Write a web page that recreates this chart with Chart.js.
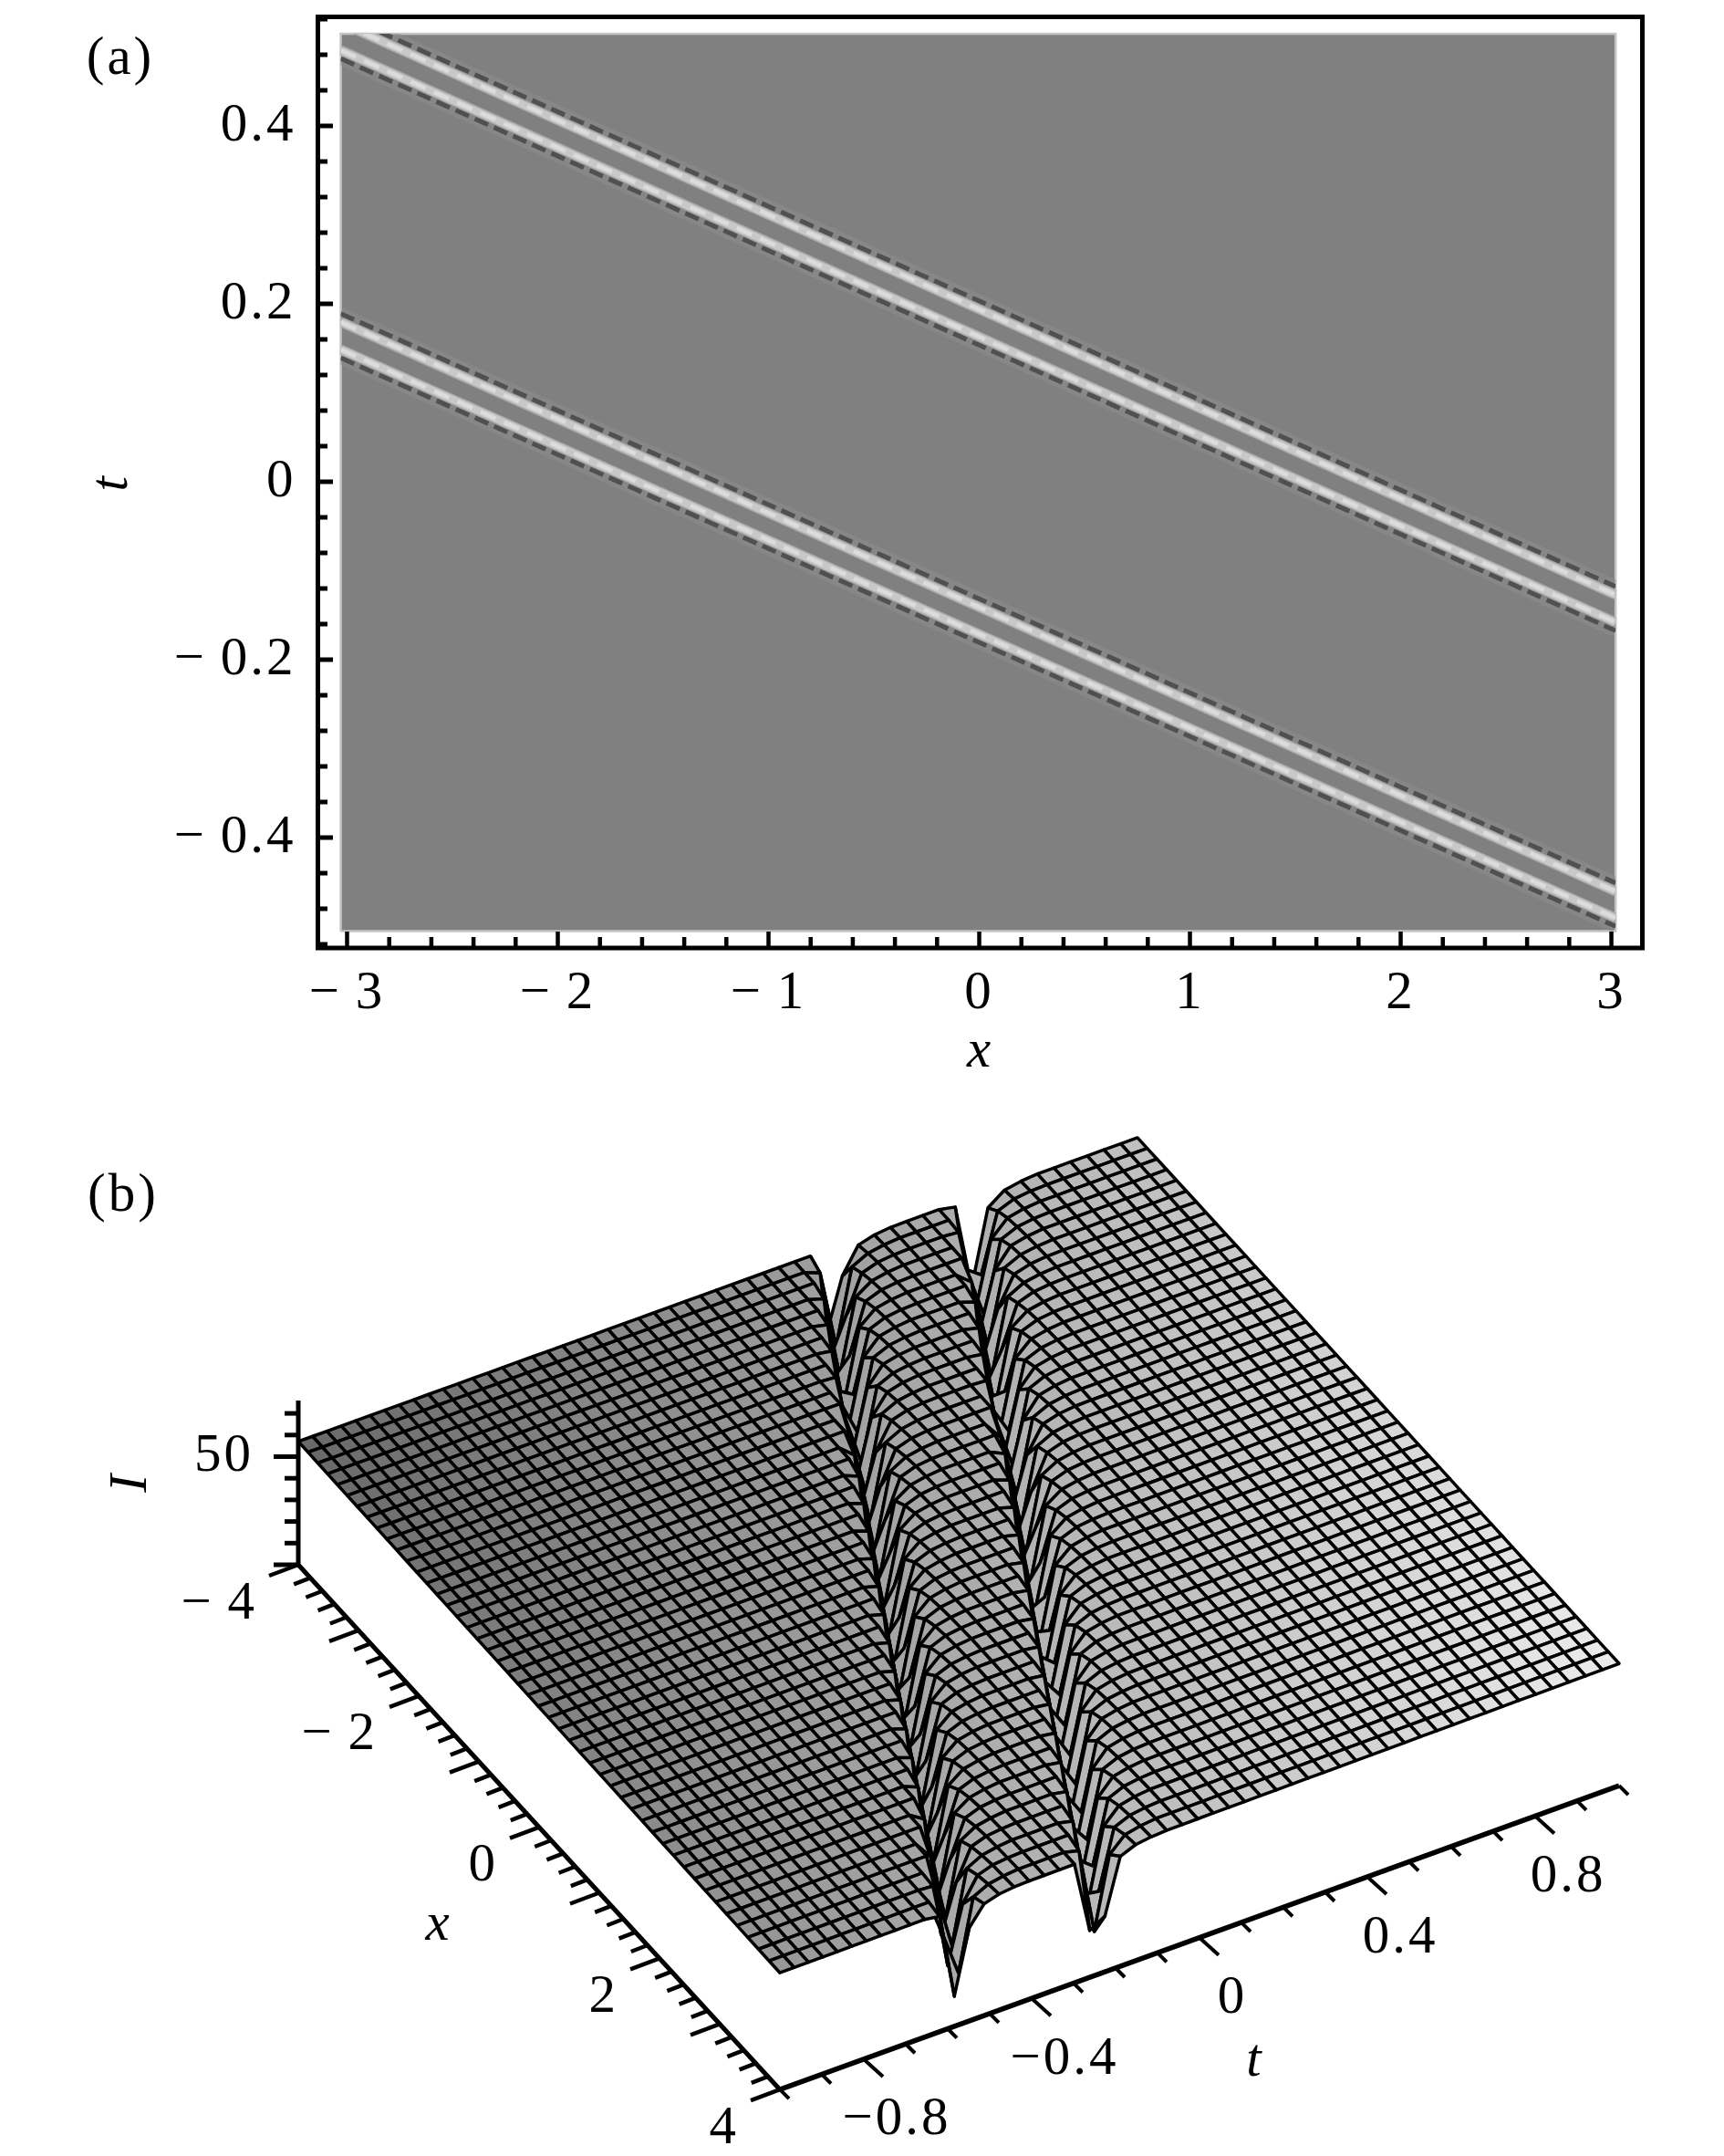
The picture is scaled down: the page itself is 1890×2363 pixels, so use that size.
<!DOCTYPE html>
<html><head><meta charset="utf-8">
<script src="https://cdn.jsdelivr.net/npm/chart.js@4"></script>
<style>
html,body{margin:0;padding:0;background:#fff}
canvas{position:absolute;left:0;display:block}
#a{top:0}#b{top:1200px}
</style></head><body>
<canvas id="a" width="1890" height="1200"></canvas>
<canvas id="b" width="1890" height="1163"></canvas>
<script>
/* ---------- panel (a) data ---------- */
const xMajorTicks=[-3,-2,-1,0,1,2,3];
const xTickLabels=['\u2212\u20093','\u2212\u20092','\u2212\u20091','0','1','2','3'];
const tMajorTicks=[-0.4,-0.2,0,0.2,0.4];
const tTickLabels=['\u2212\u20090.4','\u2212\u20090.2','0','0.2','0.4'];
const xMinorTicks=[-2.8,-2.6,-2.4,-2.2,-1.8,-1.6,-1.4,-1.2,-0.8,-0.6,-0.4,-0.2,0.2,0.4,0.6,0.8,1.2,1.4,1.6,1.8,2.2,2.4,2.6,2.8];
const tMinorTicks=[-0.52,-0.48,-0.44,-0.36,-0.32,-0.28,-0.24,-0.16,-0.12,-0.08,-0.04,0.04,0.08,0.12,0.16,0.24,0.28,0.32,0.36,0.44,0.48,0.52];
const imageX=[-3.03,3.02];
const imageT=[-0.505,0.5036];
const stripe1T=[0.5159,-0.1272];
const stripe2T=[0.4851,-0.158];
const stripe3T=[0.1795,-0.4605];
const stripe4T=[0.1487,-0.4903];
const darkEdge1T=[0.5254,-0.1177];
const darkEdge2T=[0.4756,-0.1675];
const darkEdge3T=[0.189,-0.451];
const darkEdge4T=[0.1392,-0.4998];

/* ---------- panel (b) data ---------- */
const surfaceXRange=[-4,4];
const surfaceTRange=[-1,1];
const meshCellsX=47, meshCellsT=54;
const meshWarpX=0.05, meshWarpT=0.083;    // spacing grows slightly toward the viewer
const troughTAtXZero=[-0.156,0.179];      // trough centres at x = 0
const troughDrift=-0.106;                 // dt/dx of the troughs, read from (a)
const profileD=[-0.045,-0.03,-0.015,0,0.015,0.03,0.045,0.07,0.10,0.15];   // distance from centre in t
const profileDrop=[0,3,37,42,37,12,5.5,2.5,1,0];                          // drop of I read from (b)
const cornerI=[57,57,54,56.5];            // (x-,t-),(x-,t+),(x+,t-),(x+,t+)
const cornerGray=[104,192,152,236];
const iTicks=[0,10,20,30,40,50,60,70];
const tAxis3dMajor=[-0.8,-0.4,0,0.4,0.8];
const xAxis3dLabels=[[-4,'\u2212\u20094'],[-2,'\u2212\u20092'],[0,'0'],[2,'2'],[4,'4']];
const tAxis3dLabels=[[-0.8,'\u22120.8'],[-0.4,'\u22120.4'],[0,'0'],[0.4,'0.4'],[0.8,'0.8']];

/* ---------- shared ---------- */
const SERIF='"Liberation Serif", serif';
const FS=59;
Chart.defaults.animation=false;
Chart.defaults.plugins.legend.display=false;
Chart.defaults.plugins.tooltip.enabled=false;
Chart.defaults.events=[];

const spacing={id:'spacing',beforeDraw(c){c.ctx.letterSpacing='3px';}};

const FRAME={left:348.5,right:1800.5,top:18.5,bottom:1039};
const pts2=(xs,ts)=>xs.map((x,i)=>({x:x,y:ts[i]}));

function stripeSet(arr,opts){return Object.assign({data:pts2(imageX,arr),showLine:true,fill:false,pointRadius:0,clipToImage:true,parsing:false},opts);}

const darkStyle={borderColor:'#505050',borderWidth:5,borderDash:[16,7]};
const haloStyle={borderColor:'rgba(140,140,140,0.6)',borderWidth:14};
const softStyle={borderColor:'#a8a8a8',borderWidth:11};
const lightStyle={borderColor:'#c8c8c8',borderWidth:8};
const coreStyle={borderColor:'#dcdcdc',borderWidth:4.5,borderDash:[18,10]};

const aSets=[];
const stripes=[stripe1T,stripe2T,stripe3T,stripe4T], darks=[darkEdge1T,darkEdge2T,darkEdge3T,darkEdge4T];
stripes.forEach(s=>aSets.push(stripeSet(s,coreStyle)));
stripes.forEach(s=>aSets.push(stripeSet(s,lightStyle)));
darks.forEach(s=>aSets.push(stripeSet(s,darkStyle)));
stripes.forEach(s=>aSets.push(stripeSet(s,softStyle)));
darks.forEach(s=>aSets.push(stripeSet(s,haloStyle)));
aSets.push({data:[{x:imageX[0],y:imageT[0]},{x:imageX[1],y:imageT[0]},{x:imageX[1],y:imageT[1]},{x:imageX[0],y:imageT[1]},{x:imageX[0],y:imageT[0]}],
  showLine:true,fill:'shape',backgroundColor:'#808080',borderColor:'#c4c4c4',borderWidth:2.5,pointRadius:0,parsing:false});

const imageClip={id:'imageClip',
  beforeDatasetDraw(c,args){
    const ds=c.data.datasets[args.index];
    if(!ds.clipToImage)return;
    const X=c.scales.x,Y=c.scales.y,ctx=c.ctx;
    const l=X.getPixelForValue(imageX[0]),r=X.getPixelForValue(imageX[1]);
    const t=Y.getPixelForValue(imageT[1]),b=Y.getPixelForValue(imageT[0]);
    ctx.save();ctx.beginPath();ctx.rect(l,t,r-l,b-t);ctx.clip();
  },
  afterDatasetDraw(c,args){ if(c.data.datasets[args.index].clipToImage)c.ctx.restore(); }
};
const frameTicks={id:'frameTicks',afterDraw(c){
  const ctx=c.ctx,A=c.chartArea,X=c.scales.x,Y=c.scales.y;
  ctx.save();ctx.strokeStyle='#000';
  ctx.lineWidth=5;ctx.strokeRect(A.left,A.top,A.right-A.left,A.bottom-A.top);
  const xt=(v,len,w)=>{const p=X.getPixelForValue(v);ctx.lineWidth=w;ctx.beginPath();ctx.moveTo(p,A.bottom);ctx.lineTo(p,A.bottom-len);ctx.stroke();};
  const yt=(v,len,w)=>{const p=Y.getPixelForValue(v);ctx.lineWidth=w;ctx.beginPath();ctx.moveTo(A.left,p);ctx.lineTo(A.left+len,p);ctx.stroke();};
  xMajorTicks.forEach(v=>xt(v,18,4.5));xMinorTicks.forEach(v=>xt(v,12,4.5));
  tMajorTicks.forEach(v=>yt(v,16.5,5));tMinorTicks.forEach(v=>yt(v,10.5,5));
  ctx.fillStyle='#000';ctx.font=FS+'px '+SERIF;ctx.textAlign='center';ctx.textBaseline='middle';
  ctx.fillText('(a)',132,65);
  ctx.restore();
}};

new Chart(document.getElementById('a'),{
  type:'scatter',
  data:{datasets:aSets},
  plugins:[spacing,imageClip,frameTicks],
  options:{responsive:false,devicePixelRatio:1,
    layout:{padding:{top:FRAME.top,right:1890-FRAME.right,left:0,bottom:0}},
    scales:{
      x:{type:'linear',min:-3.1385,max:3.147,grid:{display:false,drawTicks:false},border:{display:false},
        afterBuildTicks(s){s.ticks=xMajorTicks.map(v=>({value:v}));},
        afterFit(s){s.height=1200-FRAME.bottom;s.paddingLeft=0;s.paddingRight=0;},
        ticks:{autoSkip:false,maxRotation:0,minRotation:0,padding:15,color:'#000',font:{family:SERIF,size:FS},callback:(v,i)=>xTickLabels[i]},
        title:{display:true,text:'x',color:'#000',font:{family:SERIF,size:FS,style:'italic'},padding:{top:0,bottom:11}}},
      y:{type:'linear',min:(528-1039)/975,max:(528-18.5)/975,grid:{display:false,drawTicks:false},border:{display:false},
        afterBuildTicks(s){s.ticks=tMajorTicks.map(v=>({value:v}));},
        afterFit(s){s.width=FRAME.left;s.paddingTop=0;s.paddingBottom=0;},
        ticks:{autoSkip:false,padding:24,color:'#000',font:{family:SERIF,size:FS},callback:(v,i)=>tTickLabels[i]},
        title:{display:true,text:'t',color:'#000',font:{family:SERIF,size:FS,style:'italic'},padding:{top:88,bottom:0}}}
    }
  }
});

/* ---------- panel (b) ---------- */
const PROJ={u0:327,v0:1715,ux:66,vx:71.9,ut:460,vt:-166.5,vI:-2.37};
function project(x,t,I){
  return {x:PROJ.u0+PROJ.ux*(x-surfaceXRange[0])+PROJ.ut*(t-surfaceTRange[0]),
          y:PROJ.v0+PROJ.vx*(x-surfaceXRange[0])+PROJ.vt*(t-surfaceTRange[0])+PROJ.vI*I};
}
function lookup(d){
  if(d<=profileD[0]||d>=profileD[profileD.length-1])return 0;
  for(let i=1;i<profileD.length;i++){
    if(d<=profileD[i]){const f=(d-profileD[i-1])/(profileD[i]-profileD[i-1]);return profileDrop[i-1]+f*(profileDrop[i]-profileDrop[i-1]);}
  }
  return 0;
}
function bilinear(c,x,t){
  const a=(x-surfaceXRange[0])/(surfaceXRange[1]-surfaceXRange[0]),b=(t-surfaceTRange[0])/(surfaceTRange[1]-surfaceTRange[0]);
  return (c[0]*(1-b)+c[1]*b)*(1-a)+(c[2]*(1-b)+c[3]*b)*a;
}
function surfaceI(x,t){
  let I=bilinear(cornerI,x,t);
  troughTAtXZero.forEach(t0=>{I-=lookup(t-(t0+troughDrift*x));});
  return I;
}
const warp=(s,w)=>s+w*(s*s-s);
const gridX=[],gridT=[];
for(let i=0;i<=meshCellsX;i++)gridX.push(surfaceXRange[0]+(surfaceXRange[1]-surfaceXRange[0])*warp(i/meshCellsX,meshWarpX));
for(let j=0;j<=meshCellsT;j++)gridT.push(surfaceTRange[0]+(surfaceTRange[1]-surfaceTRange[0])*warp(j/meshCellsT,meshWarpT));

const bSets=[];
function axisLine(a,b,w){bSets.push({data:[a,b],showLine:true,fill:false,pointRadius:0,borderColor:'#000',borderWidth:w,parsing:false,borderCapStyle:'butt'});}
// axes & ticks (first datasets are painted last)
axisLine(project(-4,-1,0),project(-4,-1,76),5);
iTicks.forEach(v=>{const p=project(-4,-1,v),len=(v%50===0)?27:15;axisLine(p,{x:p.x-len,y:p.y},5);});
axisLine(project(-4,-1,0),project(4,-1,0),5);
axisLine(project(4,-1,0),project(4,1,0),5.5);
for(let i=0;i<=40;i++){const rx=Math.round((-4+i*0.2)*10)/10,isM=Number.isInteger(rx),p=project(rx,-1,0);
  axisLine(p,isM?{x:p.x-32,y:p.y+12}:{x:p.x-18,y:p.y+7},4.5);}
for(let i=0;i<=20;i++){const t=Math.round((-1+i*0.1)*10)/10,isM=tAxis3dMajor.includes(t),p=project(4,t,0);
  axisLine(p,isM?{x:p.x+21,y:p.y+19}:{x:p.x+10,y:p.y+10},4);}
// mesh: nearest quads first, so the far ones are painted first
for(let i=meshCellsX-1;i>=0;i--){
  for(let j=0;j<meshCellsT;j++){
    const x0=gridX[i],x1=gridX[i+1],t0=gridT[j],t1=gridT[j+1];
    const a=project(x0,t0,surfaceI(x0,t0)),b=project(x0,t1,surfaceI(x0,t1)),c=project(x1,t1,surfaceI(x1,t1)),d=project(x1,t0,surfaceI(x1,t0));
    const g=Math.round(bilinear(cornerGray,(x0+x1)/2,(t0+t1)/2));
    bSets.push({data:[a,b,c,d,a],showLine:true,fill:'shape',backgroundColor:'rgb('+g+','+g+','+g+')',
      borderColor:'#000',borderWidth:3.5,borderJoinStyle:'round',pointRadius:0,parsing:false,normalized:true});
  }
}
const labels3d={id:'labels3d',afterDraw(c){
  const ctx=c.ctx,U=c.scales.x,V=c.scales.y;
  const at=(p,dx,dy)=>[U.getPixelForValue(p.x)+dx,V.getPixelForValue(p.y)+dy];
  ctx.save();ctx.fillStyle='#000';ctx.font=FS+'px '+SERIF;ctx.textBaseline='middle';ctx.letterSpacing='3px';
  ctx.textAlign='right';
  xAxis3dLabels.forEach(([v,s])=>{const [a,b]=at(project(v,-1,0),-45,43);ctx.fillText(s,a,b);});
  {const [a,b]=at(project(-4,-1,50),-49,0);ctx.fillText('50',a,b);}
  ctx.textAlign='center';
  tAxis3dLabels.forEach(([v,s])=>{const [a,b]=at(project(4,v,0),36,67);ctx.fillText(s,a,b);});
  ctx.fillText('(b)',135,1311-1200);
  ctx.font='italic '+FS+'px '+SERIF;
  {const [a,b]=at(project(1,-1,0),-176,36);ctx.fillText('x',a,b);}
  {const [a,b]=at(project(4,0,0),61,136);ctx.fillText('t',a,b);}
  {const [a,b]=at(project(-4,-1,50),-183,28);ctx.translate(a,b);ctx.rotate(-Math.PI/2);ctx.fillText('I',0,0);}
  ctx.restore();
}};
new Chart(document.getElementById('b'),{
  type:'scatter',
  data:{datasets:bSets},
  plugins:[labels3d],
  options:{responsive:false,devicePixelRatio:1,layout:{padding:0},
    plugins:{filler:{propagate:false}},
    scales:{
      x:{type:'linear',display:false,min:0,max:1890},
      y:{type:'linear',display:false,min:1200,max:2363,reverse:true}
    }
  }
});
</script>
</body></html>
